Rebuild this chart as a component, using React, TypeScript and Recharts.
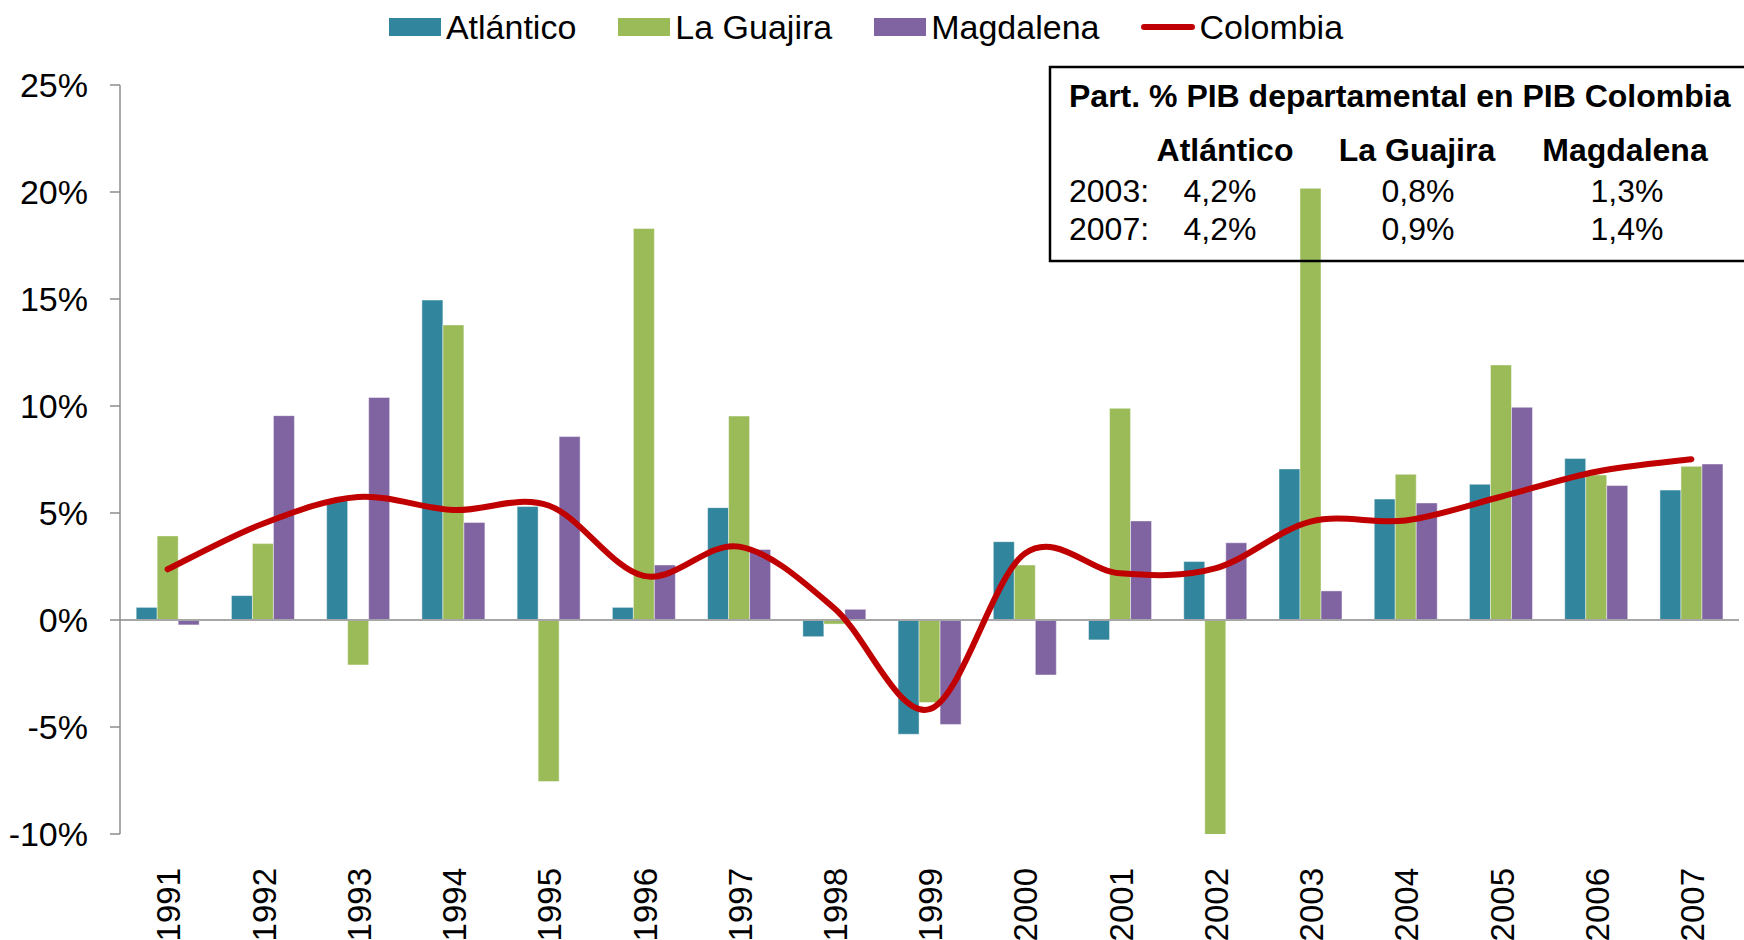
import React from 'react';
import { ComposedChart, Bar, Line, XAxis, YAxis, ReferenceLine } from 'recharts';

const years = ['1991', '1992', '1993', '1994', '1995', '1996', '1997', '1998', '1999', '2000', '2001', '2002', '2003', '2004', '2005', '2006', '2007'];
const atlantico = [0.59, 1.14, 5.65, 14.95, 5.3, 0.59, 5.25, -0.78, -5.34, 3.66, -0.93, 2.73, 7.06, 5.65, 6.34, 7.55, 6.07];
const laGuajira = [3.93, 3.57, -2.1, 13.79, -7.55, 18.3, 9.53, -0.19, -3.86, 2.57, 9.89, -10.16, 20.17, 6.81, 11.92, 6.78, 7.18];
const magdalena = [-0.23, 9.55, 10.4, 4.56, 8.57, 2.57, 3.3, 0.5, -4.88, -2.57, 4.63, 3.61, 1.36, 5.47, 9.94, 6.28, 7.29];
const colombia = [2.37, 4.5, 5.75, 5.14, 5.35, 2.06, 3.43, 0.55, -4.17, 3.1, 2.18, 2.41, 4.6, 4.65, 5.76, 6.93, 7.51];
const yTicks = [-10, -5, 0, 5, 10, 15, 20, 25];

const tableTitle = 'Part. % PIB departamental en PIB Colombia';
const tableHeaders = ['Atlántico', 'La Guajira', 'Magdalena'];
const tableRowLabels = ['2003:', '2007:'];
const tableValues = [
  ['4,2%', '0,8%', '1,3%'],
  ['4,2%', '0,9%', '1,4%'],
];

const series = [
  { key: 'atlantico', name: 'Atlántico', color: '#31859C', type: 'bar' },
  { key: 'laGuajira', name: 'La Guajira', color: '#9BBB59', type: 'bar' },
  { key: 'magdalena', name: 'Magdalena', color: '#8064A2', type: 'bar' },
  { key: 'colombia', name: 'Colombia', color: '#C00000', type: 'line' },
];

const data = years.map((y, i) => ({
  year: y,
  atlantico: atlantico[i],
  laGuajira: laGuajira[i],
  magdalena: magdalena[i],
  colombia: colombia[i],
}));

const FONT = '"Liberation Sans", Arial, Helvetica, sans-serif';

// Excel-like smoothed line (Catmull-Rom via cubic Bezier)
function excelSmooth(context: any) {
  let pts: number[][] = [];
  return {
    areaStart() {},
    areaEnd() {},
    lineStart() {
      pts = [];
    },
    lineEnd() {
      const n = pts.length;
      if (!n) return;
      context.moveTo(pts[0][0], pts[0][1]);
      for (let i = 0; i < n - 1; i++) {
        const p0 = pts[i - 1] || pts[i];
        const p1 = pts[i];
        const p2 = pts[i + 1];
        const p3 = pts[i + 2] || p2;
        context.bezierCurveTo(
          p1[0] + (p2[0] - p0[0]) / 6,
          p1[1] + (p2[1] - p0[1]) / 6,
          p2[0] - (p3[0] - p1[0]) / 6,
          p2[1] - (p3[1] - p1[1]) / 6,
          p2[0],
          p2[1]
        );
      }
    },
    point(x: number, y: number) {
      pts.push([+x, +y]);
    },
  };
}

const XTick = (props: any) => {
  const { x, y, payload } = props;
  return (
    <text
      transform={`translate(${x + 1},${y + 34}) rotate(-90)`}
      textAnchor="end"
      dy="0.355em"
      fontSize={33}
      fontFamily={FONT}
      fill="#000"
    >
      {payload.value}
    </text>
  );
};

const YTick = (props: any) => {
  const { x, y, payload } = props;
  return (
    <text x={x} y={y} textAnchor="end" dy="0.355em" fontSize={34} fontFamily={FONT} fill="#000">
      {`${payload.value}%`}
    </text>
  );
};

const LegendBar = () => (
  <div
    style={{
      position: 'absolute',
      left: 0,
      top: 0,
      width: 1744,
      height: 54,
      display: 'flex',
      justifyContent: 'center',
      alignItems: 'center',
      paddingRight: 12,
      boxSizing: 'border-box',
      fontFamily: FONT,
      fontSize: 34,
      color: '#000',
    }}
  >
    {series.map((s, i) => (
      <div key={s.key} style={{ display: 'flex', alignItems: 'center', marginLeft: i === 0 ? 0 : 42 }}>
        {s.type === 'bar' ? (
          <div style={{ width: 52, height: 18, background: s.color, marginRight: 5 }} />
        ) : (
          <div style={{ width: 54, height: 6, background: s.color, borderRadius: 3, marginRight: 4 }} />
        )}
        <span style={{ lineHeight: '40px' }}>{s.name}</span>
      </div>
    ))}
  </div>
);

const InfoBox = () => {
  const headerX = [1225, 1417, 1625];
  const valueX = [1220, 1418, 1627];
  const rowY = [202, 240];
  return (
    <svg
      width={1744}
      height={940}
      style={{ position: 'absolute', left: 0, top: 0, pointerEvents: 'none' }}
    >
      <rect x={1050} y={67} width={720} height={194} fill="none" stroke="#000" strokeWidth={2.5} />
      <text x={1069} y={107} fontSize={32} fontWeight="bold" fontFamily={FONT} fill="#000">
        {tableTitle}
      </text>
      {tableHeaders.map((h, i) => (
        <text key={h} x={headerX[i]} y={161} textAnchor="middle" fontSize={32} fontWeight="bold" fontFamily={FONT} fill="#000">
          {h}
        </text>
      ))}
      {tableRowLabels.map((r, ri) => (
        <g key={r}>
          <text x={1069} y={rowY[ri]} fontSize={32} fontFamily={FONT} fill="#000">
            {r}
          </text>
          {tableValues[ri].map((v, ci) => (
            <text key={ci} x={valueX[ci]} y={rowY[ri]} textAnchor="middle" fontSize={32} fontFamily={FONT} fill="#000">
              {v}
            </text>
          ))}
        </g>
      ))}
    </svg>
  );
};

export default function App() {
  return (
    <div style={{ position: 'absolute', left: 0, top: 0, width: 1744, height: 940, background: '#fff', overflow: 'hidden' }}>
      <ComposedChart
        width={1744}
        height={940}
        data={data}
        margin={{ top: 85, right: 5, bottom: 0, left: 0 }}
        barCategoryGap="17%"
        barGap={0}
      >
        <XAxis
          dataKey="year"
          axisLine={false}
          tickLine={false}
          tickSize={0}
          tickMargin={0}
          height={106}
          interval={0}
          tick={<XTick />}
        />
        <YAxis
          domain={[-10, 25]}
          ticks={yTicks}
          allowDataOverflow
          width={120}
          tickSize={10}
          tickMargin={22}
          axisLine={{ stroke: '#8C8C8C', strokeWidth: 1.5 }}
          tickLine={{ stroke: '#8C8C8C', strokeWidth: 1.5 }}
          tick={<YTick />}
        />
        <ReferenceLine y={0} stroke="#A6A6A6" strokeWidth={2} />
        {series
          .filter((s) => s.type === 'bar')
          .map((s) => (
            <Bar
              key={s.key}
              dataKey={s.key}
              name={s.name}
              fill={s.color}
              stroke="#ffffff"
              strokeOpacity={0.45}
              strokeWidth={1}
              isAnimationActive={false}
            />
          ))}
        <Line
          dataKey="colombia"
          name="Colombia"
          type={excelSmooth as any}
          stroke="#C00000"
          strokeWidth={6}
          dot={false}
          activeDot={false}
          strokeLinecap="round"
          isAnimationActive={false}
        />
      </ComposedChart>
      <LegendBar />
      <InfoBox />
    </div>
  );
}
